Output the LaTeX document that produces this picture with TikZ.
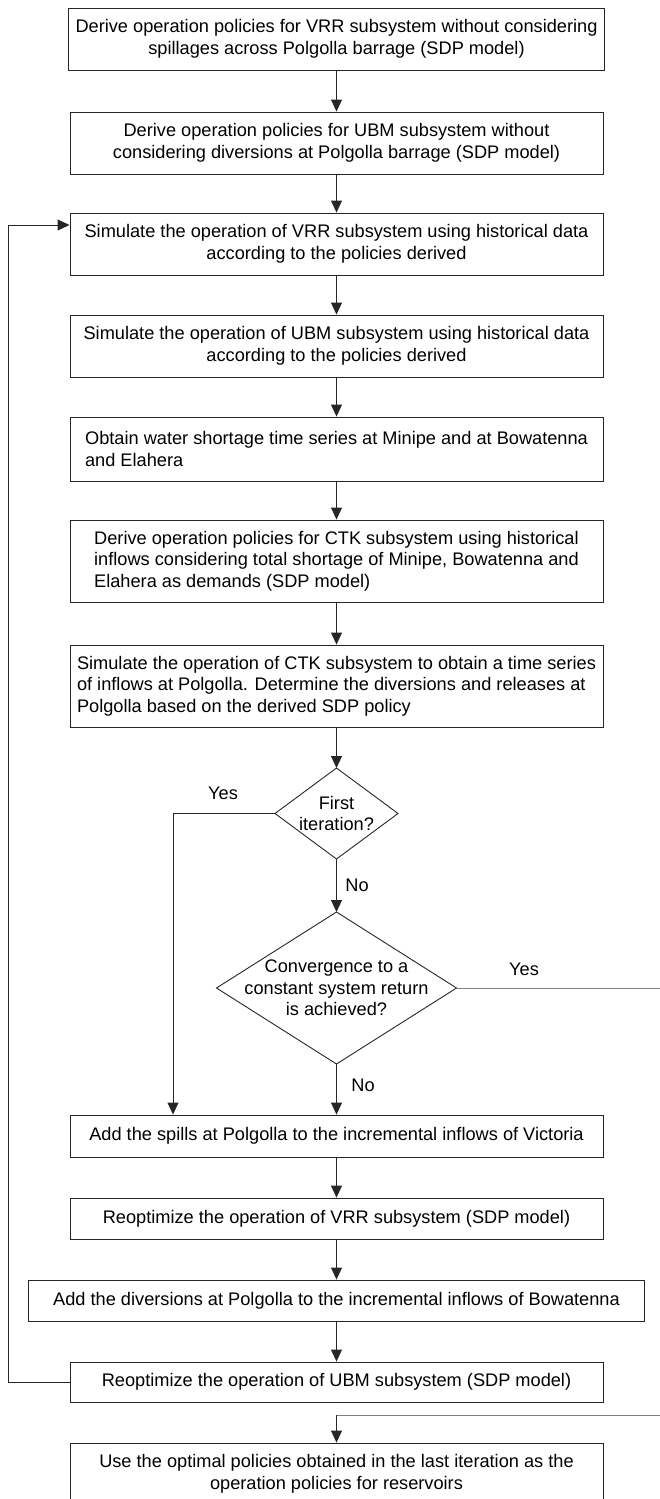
\documentclass[tikz,border=0pt]{standalone}
\usepackage{fontspec}
\setmainfont{Liberation Sans}
\usetikzlibrary{arrows.meta,shapes.geometric}
\begin{document}
\begin{tikzpicture}[x=1pt,y=-1pt,
  ln/.style={draw=black!85, line width=0.9pt},
  arr/.style={ln, -{Triangle[length=12pt,width=11pt]}},
  txt/.style={font=\fontsize{18.2}{21.5}\selectfont},
  box/.style={txt, draw=black!85, line width=0.9pt, inner xsep=7pt, inner ysep=0pt, minimum width=533pt, align=center},
  lbox/.style={box, align=left},
  dia/.style={draw=black!85, line width=0.9pt, shape=diamond, inner sep=0pt, outer sep=0pt},
  lab/.style={txt, inner sep=0pt}
]
\useasboundingbox (0,0) rectangle (659,1499);

\node[box, minimum height=62pt] (B1) at (336.5,39) {Derive operation policies for VRR subsystem without considering\\spillages across Polgolla barrage (SDP model)};
\node[box, minimum height=62pt] (B2) at (336.5,143) {Derive operation policies for UBM subsystem without\\considering diversions at Polgolla barrage (SDP model)};
\node[box, minimum height=62pt] (B3) at (336.5,244) {Simulate the operation of VRR subsystem using historical data\\according to the policies derived};
\node[box, minimum height=62pt] (B4) at (336.5,346) {Simulate the operation of UBM subsystem using historical data\\according to the policies derived};
\node[lbox, minimum height=64pt] (B5) at (336.5,449) {Obtain water shortage time series at Minipe and at Bowatenna\\and Elahera};
\node[lbox, minimum height=82pt] (B6) at (336.5,561) {Derive operation policies for CTK subsystem using historical\\inflows considering total shortage of Minipe, Bowatenna and\\Elahera as demands (SDP model)};
\node[lbox, minimum height=82pt] (B7) at (336.5,686) {Simulate the operation of CTK subsystem to obtain a time series\\of inflows at Polgolla. Determine the diversions and releases at\\Polgolla based on the derived SDP policy};

\node[dia, minimum width=123pt, minimum height=91pt] (D1) at (336.5,813.5) {};
\node[lab, align=center] (D1t) at (D1.center) {First\\iteration?};
\node[dia, minimum width=240pt, minimum height=152pt] (D2) at (336.5,988) {};
\node[lab, align=center] (D2t) at (D2.center) {Convergence to a\\constant system return\\is achieved?};

\node[box, minimum height=42pt] (B8) at (336.5,1136) {Add the spills at Polgolla to the incremental inflows of Victoria};
\node[box, minimum height=41pt] (B9) at (336.5,1218.5) {Reoptimize the operation of VRR subsystem (SDP model)};
\node[box, minimum height=41pt, minimum width=616pt] (B10) at (336.5,1300.5) {Add the diversions at Polgolla to the incremental inflows of Bowatenna};
\node[box, minimum height=40pt] (B11) at (336.5,1382) {Reoptimize the operation of UBM subsystem (SDP model)};
\node[box, minimum height=62pt] (B12) at (336.5,1474) {Use the optimal policies obtained in the last iteration as the\\operation policies for reservoirs};

\draw[arr] (B1.south) -- (B2.north);
\draw[arr] (B2.south) -- (B3.north);
\draw[arr] (B3.south) -- (B4.north);
\draw[arr] (B4.south) -- (B5.north);
\draw[arr] (B5.south) -- (B6.north);
\draw[arr] (B6.south) -- (B7.north);
\draw[arr] (B7.south) -- (D1.north);
\draw[arr] (D1.south) -- (D2.north);
\draw[arr] (D2.south) -- (B8.north);
\draw[arr] (B8.south) -- (B9.north);
\draw[arr] (B9.south) -- (B10.north);
\draw[arr] (B10.south) -- (B11.north);

\coordinate (y1) at (173,813.5);
\draw[arr] (D1.west) -- (y1) -- (y1 |- B8.north);

\coordinate (y2a) at (668,988);
\coordinate (y2b) at (668,1415);
\coordinate (y2c) at (336.5,1415);
\draw[ln, draw=black!50] (D2.east) -- (y2a) -- (y2b) -- (y2c);
\draw[arr] (y2c) -- (B12.north);

\coordinate (lpB) at (8,1382);
\coordinate (lpT) at (8,225);
\draw[arr] (B11.west) -- (lpB) -- (lpT) -- (lpT -| B3.west);

\node[lab] (yes1) at (223,793) {Yes};
\node[lab] (no1) at (357,885) {No};
\node[lab] (yes2) at (524,969) {Yes};
\node[lab] (no2) at (363,1085) {No};
\end{tikzpicture}
\end{document}
